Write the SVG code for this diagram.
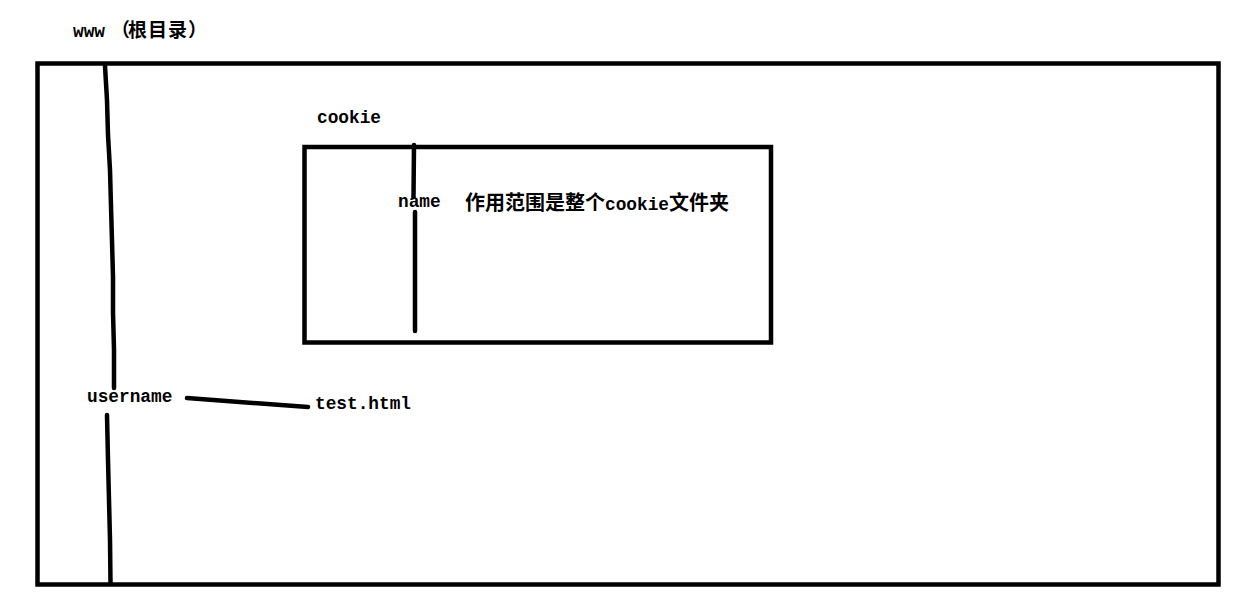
<svg xmlns="http://www.w3.org/2000/svg" width="1258" height="609" viewBox="0 0 1258 609">
<style>
.box{fill:none;stroke:#000;stroke-width:4.5}
.ln{fill:none;stroke:#000;stroke-width:4.5;stroke-linecap:round}
.t{font-family:"Liberation Mono","Noto Sans CJK SC",monospace;font-size:17.8px;font-weight:bold;fill:#000}
.c{font-family:"Noto Sans CJK SC","Liberation Mono",sans-serif;font-weight:bold}
</style>
<rect width="1258" height="609" fill="#fff"/>
<g id="root">
<rect class="box" x="37.5" y="63.5" width="1181" height="521"/>
<text class="t" x="73" y="37">www<tspan class="c" font-size="19px" x="111">（</tspan><tspan class="c" font-size="19px" x="128">根</tspan><tspan class="c" font-size="19px" x="148">目</tspan><tspan class="c" font-size="19px" x="168">录</tspan><tspan class="c" font-size="19px" x="188">）</tspan></text>
</g>
<g id="cookie">
<rect class="box" x="304.5" y="147" width="466.5" height="195.5"/>
<text class="t" x="317" y="123">cookie</text>
<text class="t" x="465" y="210"><tspan class="c" font-size="20px">作用范围是整个</tspan><tspan>cookie</tspan><tspan class="c" font-size="20px">文件夹</tspan></text>
</g>
<g id="name">
<text class="t" x="398" y="207">name</text>
</g>
<g id="username">
<text class="t" x="87" y="402">username</text>
</g>
<g id="test">
<text class="t" x="315" y="408.5">test.html</text>
</g>
<g id="connectors">
<polyline class="ln" points="105,66 107,100 108,135 110,170 111,206 112,241 113,277 113,312 114,350 114,388"/>
<polyline class="ln" points="107,415 108,460 109,500 110,540 110.5,583"/>
<line class="ln" x1="414" y1="145" x2="413.5" y2="197"/>
<line class="ln" x1="415" y1="212" x2="415" y2="331"/>
<line class="ln" x1="187" y1="398" x2="308" y2="407"/>
</g>
</svg>
